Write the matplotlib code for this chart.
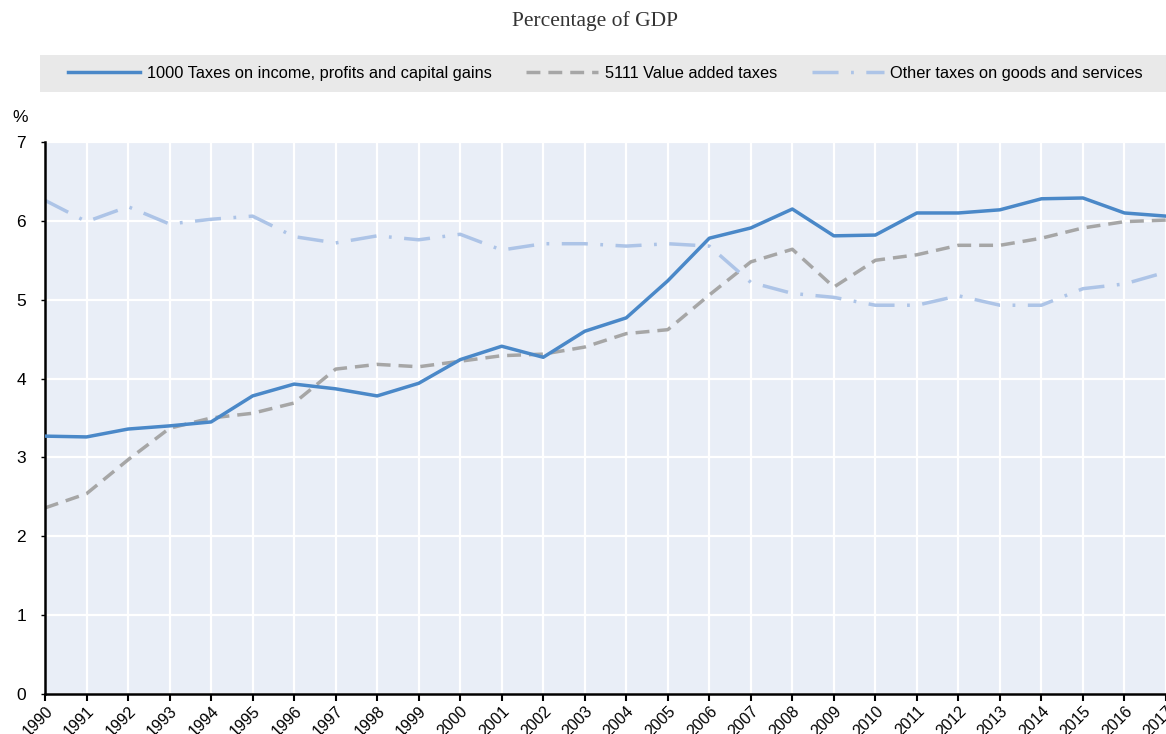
import matplotlib
matplotlib.use("Agg")
import matplotlib.pyplot as plt
from matplotlib import font_manager
from matplotlib.patches import Rectangle

years = list(range(1990, 2018))
income = [3.27, 3.26, 3.36, 3.40, 3.45, 3.78, 3.93, 3.87, 3.78, 3.94, 4.24, 4.41, 4.27, 4.60,
          4.77, 5.24, 5.78, 5.91, 6.15, 5.81, 5.82, 6.10, 6.10, 6.14, 6.28, 6.29, 6.10, 6.06]
vat = [2.36, 2.54, 2.97, 3.37, 3.50, 3.56, 3.69, 4.12, 4.18, 4.15, 4.22, 4.29, 4.31, 4.40,
       4.57, 4.62, 5.06, 5.48, 5.64, 5.16, 5.50, 5.57, 5.69, 5.69, 5.78, 5.91, 5.99, 6.01]
other = [6.26, 5.99, 6.18, 5.96, 6.02, 6.06, 5.80, 5.72, 5.81, 5.76, 5.83, 5.63, 5.71, 5.71,
         5.68, 5.71, 5.68, 5.22, 5.08, 5.03, 4.93, 4.93, 5.05, 4.93, 4.93, 5.14, 5.20, 5.35]
labels = ["1000 Taxes on income, profits and capital gains", "5111 Value added taxes",
          "Other taxes on goods and services"]
yticks = [0, 1, 2, 3, 4, 5, 6, 7]

names = {f.name for f in font_manager.fontManager.ttflist}
narrow = "Liberation Sans Narrow" if "Liberation Sans Narrow" in names else "Liberation Sans"
plt.rcParams['font.family'] = [narrow, 'DejaVu Sans']

W, H = 1166, 734
fig = plt.figure(figsize=(W / 100, H / 100), dpi=100)
ax = fig.add_axes([45 / W, 1 - 694 / H, (1166 - 45) / W, (694 - 142) / H])
ax.set_facecolor("#e9eef7")

ax.plot(years, income, color="#4a88c8", lw=2.5, label=labels[0], zorder=3)
ax.plot(years, vat, color="#a6a6a6", lw=2.5, dashes=(4, 2.3), label=labels[1], zorder=2)
ax.plot(years, other, color="#adc4e7", lw=2.5, dashes=(7.5, 3.6, 0.8, 3.6),
        label=labels[2], zorder=2)

ax.set_xlim(1990, 2017)
ax.set_ylim(0, 7)
ax.set_xticks(years)
ax.set_xticklabels([str(y) for y in years], rotation=45, ha="right", rotation_mode="anchor",
                   fontsize=11.5)
ax.set_yticks(yticks)
ax.set_yticklabels([str(v) for v in yticks], fontsize=12.5)
ax.grid(True, color="white", lw=1.6)
ax.set_axisbelow(True)
for s in ["top", "right"]:
    ax.spines[s].set_visible(False)
for s in ["left", "bottom"]:
    ax.spines[s].set_color("black")
    ax.spines[s].set_linewidth(1.8)
ax.tick_params(axis="x", direction="out", length=5, width=1.5, pad=2)
ax.tick_params(axis="y", direction="out", length=3, width=1.0, pad=14)
for t in ax.get_yticklabels():
    t.set_horizontalalignment("center")

fig.text(20 / W, 1 - 118 / H, "%", fontsize=12.5, ha="center", va="center")
fig.text(595 / W, 1 - 21 / H, "Percentage of GDP", fontsize=15.5, ha="center", va="center",
         family=["Liberation Serif", "DejaVu Serif"], color="#333333")

fig.patches.append(Rectangle((40 / W, 1 - 92 / H), (1166 - 40) / W, 37 / H,
                             transform=fig.transFigure, facecolor="#e9e9e9", edgecolor="none",
                             zorder=-1))
handles, labs = ax.get_legend_handles_labels()
leg = fig.legend(handles, labs, loc="center", ncol=3,
                 bbox_to_anchor=(45 / W, 1 - 92 / H, (1166 - 45) / W, 37 / H),
                 frameon=False, handlelength=4.4, handletextpad=0.4,
                 columnspacing=2.1, fontsize=11.8, borderaxespad=0)

fig.savefig("out.png", dpi=100)
